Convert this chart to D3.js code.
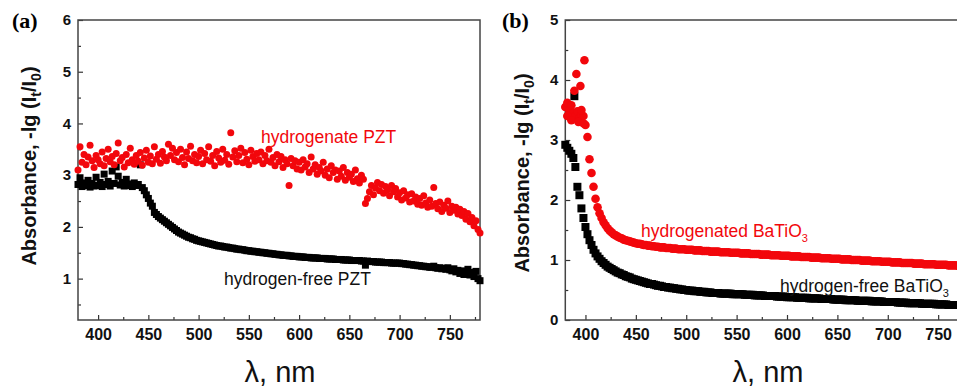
<!DOCTYPE html>
<html>
<head>
<meta charset="utf-8">
<script src="https://cdn.jsdelivr.net/npm/d3@7"></script>
<style>
  body { margin: 0; background: #fff; }
  svg { display: block; font-family: Arial, "Liberation Sans", sans-serif; }
</style>
</head>
<body>
<svg id="chart" width="957" height="388"></svg>
<script>
// wavelength grid of the spectrometer, nm
const wavelengths = d3.range(380, 781, 2);

// (a) PZT, absorbance (one value per wavelength)
const pztFree = [
  2.82, 2.95, 2.78, 2.85, 2.80, 2.90, 2.77, 2.84, 2.79, 2.96,
  2.80, 2.86, 2.78, 3.02, 2.82, 2.88, 2.79, 3.08, 2.84, 3.16,
  2.98, 2.81, 2.86, 2.79, 2.92, 2.80, 2.83, 2.78, 2.85, 2.80,
  2.82, 3.20, 2.76, 2.70, 2.62, 2.55, 2.46, 2.40, 2.28, 2.24,
  2.20, 2.17, 2.14, 2.11, 2.08, 2.05, 2.02, 1.99, 1.96, 1.93,
  1.90, 1.88, 1.86, 1.84, 1.82, 1.80, 1.79, 1.77, 1.76, 1.74,
  1.73, 1.72, 1.71, 1.70, 1.69, 1.68, 1.67, 1.66, 1.65, 1.64,
  1.63, 1.63, 1.62, 1.61, 1.61, 1.60, 1.59, 1.59, 1.58, 1.57,
  1.57, 1.56, 1.56, 1.55, 1.54, 1.54, 1.53, 1.53, 1.52, 1.52,
  1.51, 1.51, 1.50, 1.50, 1.49, 1.49, 1.48, 1.48, 1.47, 1.47,
  1.46, 1.46, 1.45, 1.45, 1.45, 1.44, 1.44, 1.43, 1.43, 1.43,
  1.42, 1.42, 1.42, 1.41, 1.41, 1.41, 1.40, 1.40, 1.40, 1.40,
  1.39, 1.39, 1.39, 1.39, 1.38, 1.38, 1.38, 1.38, 1.37, 1.37,
  1.37, 1.37, 1.36, 1.36, 1.36, 1.36, 1.35, 1.35, 1.35, 1.35,
  1.35, 1.34, 1.34, 1.26, 1.34, 1.33, 1.33, 1.33, 1.32, 1.32,
  1.32, 1.32, 1.31, 1.31, 1.31, 1.31, 1.30, 1.30, 1.30, 1.30,
  1.30, 1.29, 1.29, 1.28, 1.28, 1.27, 1.27, 1.26, 1.26, 1.25,
  1.25, 1.24, 1.24, 1.23, 1.23, 1.22, 1.22, 1.24, 1.21, 1.20,
  1.21, 1.19, 1.20, 1.18, 1.21, 1.17, 1.15, 1.19, 1.13, 1.16,
  1.10, 1.15, 1.08, 1.13, 1.18, 1.07, 1.12, 1.04, 1.14, 1.00,
  0.96
];

const pztHydro = [
  3.10, 3.55, 3.25, 3.40, 3.20, 3.35, 3.58, 3.28, 3.15, 3.38,
  3.30, 3.22, 3.45, 3.18, 3.32, 3.50, 3.26, 3.36, 3.20, 3.42,
  3.62, 3.28, 3.34, 3.16, 3.40, 3.24, 3.52, 3.30, 3.21, 3.38,
  3.27, 3.44, 3.19, 3.33, 3.48, 3.25, 3.37, 3.22, 3.55, 3.31,
  3.40, 3.23, 3.46, 3.35, 3.28, 3.60, 3.38, 3.52, 3.30, 3.44,
  3.26, 3.50, 3.34, 3.20, 3.45, 3.32, 3.56, 3.28, 3.40, 3.24,
  3.36, 3.48, 3.22, 3.42, 3.30, 3.55, 3.27, 3.38, 3.18, 3.46,
  3.33, 3.25, 3.50, 3.29, 3.40, 3.21, 3.82, 3.35, 3.47, 3.26,
  3.38, 3.52, 3.24, 3.44, 3.31, 3.20, 3.48, 3.36, 3.27, 3.42,
  3.30, 3.45, 3.22, 3.38, 3.28, 3.50, 3.25, 3.34, 3.18, 3.40,
  3.26, 3.36, 3.15, 3.30, 3.22, 2.80, 3.32, 3.18, 3.28, 3.12,
  3.25, 3.10, 3.30, 3.16, 3.22, 3.05, 3.35, 3.12, 3.20, 3.02,
  3.15, 3.08, 3.25, 3.00, 3.12, 2.95, 3.18, 3.05, 3.10, 2.92,
  3.08, 2.98, 3.15, 2.90, 3.05, 2.96, 3.02, 2.88, 3.10, 2.93,
  2.85, 3.00, 2.92, 2.45, 2.55, 2.68, 2.80, 2.62, 2.75, 2.86,
  2.70, 2.82, 2.65, 2.78, 2.72, 2.60, 2.80, 2.68, 2.74, 2.58,
  2.66, 2.52, 2.70, 2.56, 2.62, 2.48, 2.64, 2.50, 2.58, 2.44,
  2.55, 2.42, 2.60, 2.46, 2.38, 2.52, 2.40, 2.76, 2.45, 2.35,
  2.48, 2.30, 2.42, 2.36, 2.50, 2.28, 2.40, 2.32, 2.38, 2.25,
  2.34, 2.22, 2.30, 2.15, 2.26, 2.10, 2.18, 2.02, 2.12, 1.95,
  1.88
];

// (b) BaTiO3
const btoFree = [
  2.92, 2.87, 2.82, 2.77, 2.70, 2.55, 2.22, 2.08, 1.86, 1.70,
  1.55, 1.43, 1.33, 1.25, 1.17, 1.11, 1.06, 1.02, 0.98, 0.95,
  0.92, 0.89, 0.87, 0.85, 0.83, 0.81, 0.79, 0.78, 0.76, 0.75,
  0.73, 0.72, 0.71, 0.69, 0.68, 0.67, 0.66, 0.65, 0.64, 0.63,
  0.62, 0.61, 0.60, 0.60, 0.59, 0.58, 0.57, 0.57, 0.56, 0.55,
  0.55, 0.54, 0.54, 0.53, 0.53, 0.52, 0.52, 0.51, 0.51, 0.50,
  0.50, 0.49, 0.49, 0.49, 0.48, 0.48, 0.48, 0.47, 0.47, 0.47,
  0.46, 0.46, 0.46, 0.45, 0.45, 0.45, 0.45, 0.44, 0.44, 0.44,
  0.44, 0.44, 0.44, 0.43, 0.43, 0.43, 0.43, 0.43, 0.43, 0.42,
  0.42, 0.42, 0.42, 0.42, 0.41, 0.41, 0.41, 0.41, 0.41, 0.40,
  0.40, 0.40, 0.40, 0.40, 0.40, 0.39, 0.39, 0.39, 0.39, 0.39,
  0.38, 0.38, 0.38, 0.38, 0.38, 0.37, 0.37, 0.37, 0.37, 0.37,
  0.37, 0.36, 0.36, 0.36, 0.36, 0.36, 0.36, 0.35, 0.35, 0.35,
  0.35, 0.35, 0.35, 0.34, 0.34, 0.34, 0.34, 0.34, 0.34, 0.33,
  0.33, 0.33, 0.33, 0.33, 0.33, 0.32, 0.32, 0.32, 0.32, 0.32,
  0.32, 0.32, 0.31, 0.31, 0.31, 0.31, 0.31, 0.31, 0.30, 0.30,
  0.30, 0.30, 0.30, 0.30, 0.30, 0.29, 0.29, 0.29, 0.29, 0.29,
  0.28, 0.28, 0.28, 0.28, 0.28, 0.28, 0.28, 0.27, 0.27, 0.27,
  0.27, 0.27, 0.27, 0.27, 0.26, 0.26, 0.26, 0.26, 0.26, 0.26,
  0.25, 0.25, 0.25, 0.25, 0.25, 0.25, 0.25, 0.24, 0.24, 0.24,
  0.24
];

const btoHydro = [
  3.55, 3.62, 3.50, 3.58, 3.45, 3.40, 3.48, 3.36, 3.42, 3.40,
  3.25, 3.05, 2.68, 2.45, 2.22, 2.02, 1.88, 1.78, 1.70, 1.63,
  1.58, 1.53, 1.49, 1.46, 1.43, 1.41, 1.39, 1.37, 1.36, 1.34,
  1.33, 1.32, 1.31, 1.30, 1.29, 1.28, 1.27, 1.27, 1.26, 1.25,
  1.25, 1.24, 1.24, 1.23, 1.23, 1.22, 1.22, 1.21, 1.21, 1.21,
  1.20, 1.20, 1.20, 1.19, 1.19, 1.19, 1.18, 1.18, 1.18, 1.18,
  1.17, 1.17, 1.17, 1.17, 1.16, 1.16, 1.16, 1.16, 1.15, 1.15,
  1.15, 1.15, 1.14, 1.14, 1.14, 1.14, 1.14, 1.13, 1.13, 1.13,
  1.13, 1.13, 1.12, 1.12, 1.12, 1.12, 1.12, 1.11, 1.11, 1.11,
  1.11, 1.11, 1.10, 1.10, 1.10, 1.10, 1.10, 1.09, 1.09, 1.09,
  1.09, 1.09, 1.08, 1.08, 1.08, 1.08, 1.08, 1.07, 1.07, 1.07,
  1.07, 1.07, 1.06, 1.06, 1.06, 1.06, 1.06, 1.05, 1.05, 1.05,
  1.05, 1.05, 1.04, 1.04, 1.04, 1.04, 1.04, 1.03, 1.03, 1.03,
  1.03, 1.03, 1.02, 1.02, 1.02, 1.02, 1.02, 1.01, 1.01, 1.01,
  1.01, 1.01, 1.00, 1.00, 1.00, 1.00, 1.00, 0.99, 0.99, 0.99,
  0.99, 0.99, 0.98, 0.98, 0.98, 0.98, 0.98, 0.97, 0.97, 0.97,
  0.97, 0.97, 0.96, 0.96, 0.96, 0.96, 0.96, 0.95, 0.95, 0.95,
  0.95, 0.95, 0.95, 0.94, 0.94, 0.94, 0.94, 0.94, 0.93, 0.93,
  0.93, 0.93, 0.93, 0.93, 0.92, 0.92, 0.92, 0.92, 0.92, 0.92,
  0.91, 0.91, 0.91, 0.91, 0.91, 0.90, 0.90, 0.90, 0.90, 0.90,
  0.90
];

// scattered extra readings near the band edge in (b): [nm, absorbance]
const btoFreeExtra = [[389, 3.73]];
const btoHydroExtra = [
  [399, 4.33], [391, 4.10], [395, 3.90], [389, 3.82],
  [382, 3.40], [386, 3.33], [393, 3.30], [396, 3.50], [398, 3.28]
];

const xMajor = [400, 450, 500, 550, 600, 650, 700, 750];
const xMinor = [425, 475, 525, 575, 625, 675, 725, 775];

const RED = "#f2070c";
const svg = d3.select("#chart");

function drawPanel(opts) {
  const x = d3.scaleLinear().domain([380, 780]).range([opts.left, opts.right]);
  const y = d3.scaleLinear().domain(opts.yDomain).range([320, 20]);
  const g = svg.append("g");

  // x axis, ticks pointing into the plot
  const xa = g.append("g").attr("transform", "translate(0,320)")
    .call(d3.axisBottom(x).tickValues(xMajor).tickSize(-5).tickSizeOuter(0).tickPadding(9));
  g.append("g").attr("transform", "translate(0,320)")
    .call(d3.axisBottom(x).tickValues(xMinor).tickSize(-3).tickSizeOuter(0).tickFormat(""));
  const ya = g.append("g").attr("transform", "translate(" + opts.left + ",0)")
    .call(d3.axisLeft(y).tickValues(opts.yMajor).tickSize(-5).tickSizeOuter(0).tickPadding(7).tickFormat(d3.format("d")));
  g.append("g").attr("transform", "translate(" + opts.left + ",0)")
    .call(d3.axisLeft(y).tickValues(opts.yMinor).tickSize(-3).tickSizeOuter(0).tickFormat(""));

  g.selectAll(".domain").remove();
  g.selectAll(".tick line").attr("stroke", "#333").attr("stroke-width", 1.2);
  xa.selectAll("text").attr("font-size", 16).attr("font-weight", "bold").attr("fill", "#111");
  ya.selectAll("text").attr("font-size", 15).attr("font-weight", "bold").attr("fill", "#111");

  g.append("rect")
    .attr("x", opts.left).attr("y", 20)
    .attr("width", opts.right - opts.left).attr("height", 300)
    .attr("fill", "none").attr("stroke", "#444").attr("stroke-width", 1.5);

  // data marks
  const pts = (vals, extra) => vals.map((v, i) => [wavelengths[i], v]).concat(extra || []);

  g.append("g").selectAll("rect")
    .data(pts(opts.black, opts.blackExtra))
    .join("rect")
    .attr("x", d => x(d[0]) - opts.sq / 2)
    .attr("y", d => y(d[1]) - opts.sq / 2)
    .attr("width", opts.sq).attr("height", opts.sq)
    .attr("fill", "#000");

  g.append("g").selectAll("circle")
    .data(pts(opts.red, opts.redExtra))
    .join("circle")
    .attr("cx", d => x(d[0]))
    .attr("cy", d => y(d[1]))
    .attr("r", opts.r)
    .attr("fill", RED);

  // panel letter
  svg.append("text")
    .attr("x", opts.labelX).attr("y", 28)
    .attr("font-family", "'Liberation Serif', 'Times New Roman', serif")
    .attr("font-weight", "bold").attr("font-size", 22)
    .text(opts.label);

  // y title
  const yt = svg.append("text")
    .attr("transform", "translate(" + opts.yTitleX + "," + opts.yTitleY + ") rotate(-90)")
    .attr("text-anchor", "middle")
    .attr("font-weight", "bold").attr("font-size", 20).attr("fill", "#111");
  yt.append("tspan").text("Absorbance, -lg (I");
  yt.append("tspan").attr("dy", 5).attr("font-size", 14).text("t");
  yt.append("tspan").attr("dy", -5).text("/I");
  yt.append("tspan").attr("dy", 5).attr("font-size", 14).text("0");
  yt.append("tspan").attr("dy", -5).text(")");

  // x title
  svg.append("text")
    .attr("x", opts.xTitleX).attr("y", 382)
    .attr("text-anchor", "middle")
    .attr("font-size", 29).attr("fill", "#111")
    .text("\u03bb, nm");

  // annotations
  opts.notes.forEach(n => {
    const t = svg.append("text")
      .attr("x", n.x).attr("y", n.y)
      .attr("font-size", 17.5).attr("fill", n.color)
      .text(n.text);
    if (n.sub) {
      t.append("tspan").attr("dy", 5).attr("font-size", 11).text(n.sub);
    }
  });
}

drawPanel({
  left: 78, right: 480,
  yDomain: [0.2, 6], yMajor: [1, 2, 3, 4, 5, 6], yMinor: [0.5, 1.5, 2.5, 3.5, 4.5, 5.5],
  black: pztFree, red: pztHydro,
  sq: 7, r: 3.5,
  label: "(a)", labelX: 12,
  yTitleX: 36, yTitleY: 166, xTitleX: 280,
  notes: [
    { text: "hydrogenate PZT", x: 261, y: 143, color: RED },
    { text: "hydrogen-free PZT", x: 224, y: 285, color: "#111" }
  ]
});

drawPanel({
  left: 565.3, right: 968.4,
  yDomain: [0, 5], yMajor: [0, 1, 2, 3, 4, 5], yMinor: [0.5, 1.5, 2.5, 3.5, 4.5],
  black: btoFree, red: btoHydro,
  blackExtra: btoFreeExtra, redExtra: btoHydroExtra,
  sq: 8, r: 4.3,
  label: "(b)", labelX: 502,
  yTitleX: 529, yTitleY: 173, xTitleX: 768,
  notes: [
    { text: "hydrogenated BaTiO", sub: "3", x: 641, y: 237, color: RED },
    { text: "hydrogen-free BaTiO", sub: "3", x: 780, y: 292, color: "#111" }
  ]
});
</script>
</body>
</html>
